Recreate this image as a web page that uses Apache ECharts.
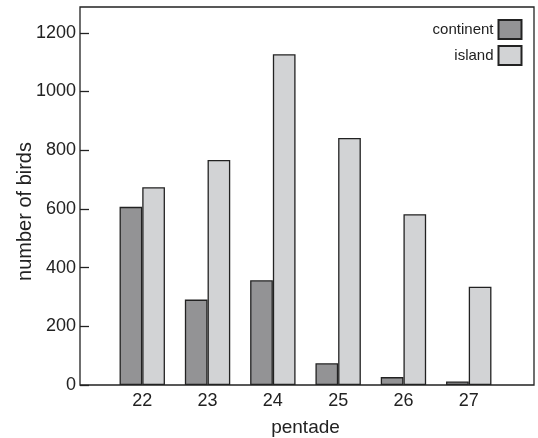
<!DOCTYPE html>
<html>
<head>
<meta charset="utf-8">
<script src="https://cdn.jsdelivr.net/npm/echarts@6/dist/echarts.min.js"></script>
<style>html,body{margin:0;padding:0;background:#fff}#c{width:538px;height:438px}</style>
</head>
<body>
<div id="c"></div>
<script>
var categories = ['22', '23', '24', '25', '26', '27'];
var continent = [607, 291, 357, 74, 27, 12];
var island = [674, 767, 1127, 842, 582, 335];
var yTicks = [0, 200, 400, 600, 800, 1000, 1200];

var FONT = 'Liberation Sans, Arial, Helvetica, sans-serif';
var chart = echarts.init(document.getElementById('c'), null, {renderer: 'canvas'});
var yMax = 1288;
chart.setOption({
  animation: false,
  backgroundColor: '#fff',
  textStyle: {fontFamily: FONT, color: '#222'},
  grid: [
    {left: 80, top: 7, width: 454, height: 378, show: true, borderColor: '#222', borderWidth: 1.3,
     backgroundColor: 'transparent', containLabel: false, outerBoundsMode: 'none'},
    {left: 109.6, top: 7, width: 391.8, height: 378, containLabel: false, outerBoundsMode: 'none'}
  ],
  legend: {
    orient: 'vertical', right: 15.5, top: 19, align: 'right', padding: 0,
    itemWidth: 23, itemHeight: 19, itemGap: 5, icon: 'rect',
    textStyle: {fontFamily: FONT, fontSize: 15, color: '#222'},
    data: ['continent', 'island']
  },
  xAxis: [
    {type: 'value', gridIndex: 0, min: 0, max: 1, show: false},
    {type: 'category', gridIndex: 1, data: categories,
     axisLine: {show: false}, axisTick: {show: false},
     axisLabel: {fontFamily: FONT, fontSize: 18, color: '#222', margin: 7},
     name: 'pentade', nameLocation: 'middle', nameGap: 33,
     nameTextStyle: {fontFamily: FONT, fontSize: 19, color: '#222'}}
  ],
  yAxis: [
    {type: 'value', gridIndex: 0, min: 0, max: yMax, interval: 200,
     axisLine: {show: false}, splitLine: {show: false},
     axisTick: {show: true, inside: true, length: 9, lineStyle: {color: '#222', width: 1.3},
       customValues: yTicks},
     axisLabel: {fontFamily: FONT, fontSize: 18, color: '#222', margin: 4, customValues: yTicks,
       formatter: function (v) { return String(v); }},
     name: 'number of birds', nameLocation: 'middle', nameGap: 45, nameMoveOverlap: false,
     nameTextStyle: {fontFamily: FONT, fontSize: 20, color: '#222', padding: [0, 31, 0, 0]}},
    {type: 'value', gridIndex: 1, min: 0, max: yMax, show: false}
  ],
  series: [
    {name: 'continent', type: 'bar', xAxisIndex: 1, yAxisIndex: 1, data: continent,
     barWidth: 22.7, barGap: '0%',
     itemStyle: {color: '#939395', borderColor: '#222', borderWidth: 1.3}},
    {name: 'island', type: 'bar', xAxisIndex: 1, yAxisIndex: 1, data: island,
     barWidth: 22.7, barGap: '0%',
     itemStyle: {color: '#d2d3d5', borderColor: '#222', borderWidth: 1.3}}
  ]
});
</script>
</body>
</html>
